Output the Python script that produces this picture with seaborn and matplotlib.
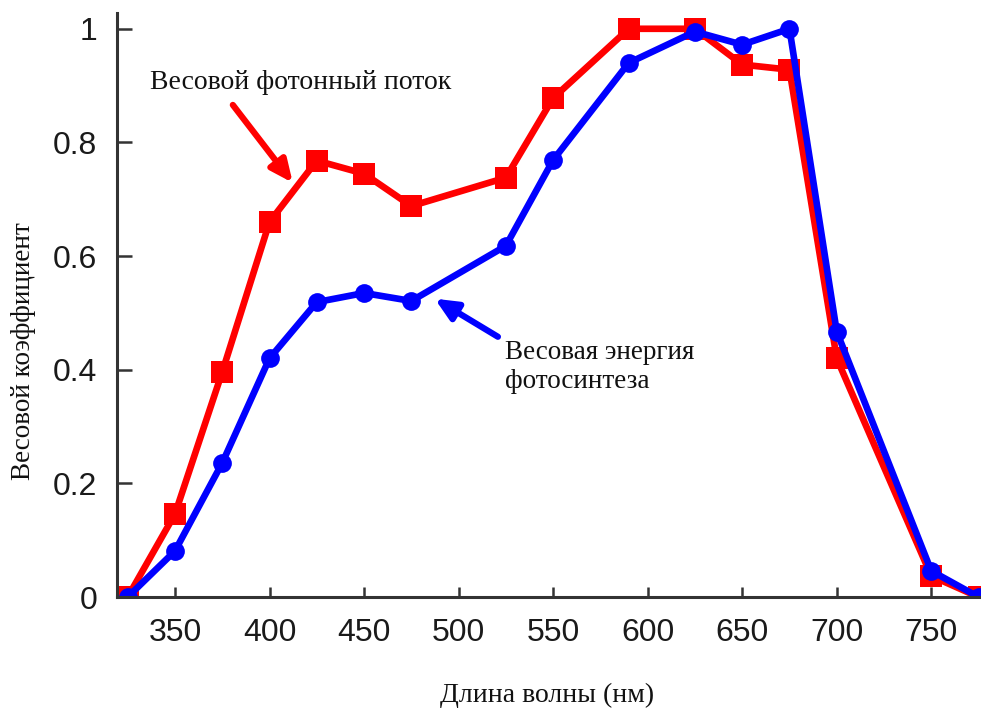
import matplotlib
matplotlib.use("Agg")
import matplotlib.pyplot as plt
import seaborn as sns
import pandas as pd

# Wavelengths (nm) and weighting coefficients
wavelength = [325, 350, 375, 400, 425, 450, 475, 525, 550, 590, 625, 650, 675, 700, 750, 775]
photon_flux = [0.0, 0.146, 0.396, 0.66, 0.768, 0.745, 0.688, 0.738, 0.878, 1.0, 1.0, 0.937, 0.928, 0.42, 0.037, 0.0]
photo_energy = [0.0, 0.081, 0.236, 0.42, 0.519, 0.535, 0.521, 0.618, 0.769, 0.94, 0.995, 0.972, 1.0, 0.467, 0.046, 0.0]

x_ticks = [350, 400, 450, 500, 550, 600, 650, 700, 750]
y_ticks = [0, 0.2, 0.4, 0.6, 0.8, 1.0]
y_ticklabels = ["0", "0.2", "0.4", "0.6", "0.8", "1"]

label_flux = "Весовой фотонный поток"
label_energy = "Весовая энергия\nфотосинтеза"
x_title = "Длина волны (нм)"
y_title = "Весовой коэффициент"

df = pd.DataFrame({"wl": wavelength, "flux": photon_flux, "energy": photo_energy})

sns.set_theme(style="ticks")
plt.rcParams["font.family"] = ["Liberation Sans", "DejaVu Sans"]

fig = plt.figure(figsize=(9.81, 7.15), dpi=100)
ax = fig.add_axes([0.119, 0.165, 0.881, 0.817])

sns.lineplot(data=df, x="wl", y="flux", ax=ax, color="#ff0000", lw=4.8,
             marker="s", markersize=16, markeredgewidth=0, zorder=3)
sns.lineplot(data=df, x="wl", y="energy", ax=ax, color="#0000ff", lw=4.8,
             marker="o", markersize=13.5, markeredgewidth=0, zorder=4)

ax.set_xlim(319.2, 776.3)
ax.set_ylim(0, 1.028)
ax.set_xticks(x_ticks)
ax.set_yticks(y_ticks)
ax.set_yticklabels(y_ticklabels)

for side in ("top", "right"):
    ax.spines[side].set_visible(False)
for side in ("left", "bottom"):
    ax.spines[side].set_linewidth(2.2)
    ax.spines[side].set_color("#333333")
    ax.spines[side].set_zorder(5)

ax.tick_params(axis="y", direction="in", length=11, width=1.8, color="#333333",
               pad=14, labelsize=23, labelcolor="#1a1a1a")
ax.tick_params(axis="x", direction="in", length=7, width=1.8, color="#333333",
               pad=15, labelsize=23, labelcolor="#1a1a1a")

serif = ["Liberation Serif", "DejaVu Serif"]
ax.set_xlabel(x_title, family=serif, fontsize=20, color="#111111", va="center")
ax.xaxis.set_label_coords(0.498, -0.168)
ax.set_ylabel(y_title, family=serif, fontsize=19.5, color="#111111", va="center")
ax.yaxis.set_label_coords(-0.108, 0.421)

ax.text(336.6, 0.905, label_flux, family=serif, fontsize=20, color="#111111",
        ha="left", va="center")
ax.text(524.5, 0.452, label_energy, family=serif, fontsize=19.5, color="#111111",
        ha="left", va="top", linespacing=1.2)

ax.annotate("", xy=(412.3, 0.729), xytext=(380.6, 0.866),
            arrowprops=dict(arrowstyle="-|>,head_length=1.1,head_width=0.5",
                            color="#ff0000", lw=4.5, shrinkA=0, shrinkB=0))
ax.annotate("", xy=(487.4, 0.525), xytext=(520.8, 0.458),
            arrowprops=dict(arrowstyle="-|>,head_length=1.1,head_width=0.5",
                            color="#0000ff", lw=4.5, shrinkA=0, shrinkB=0))

fig.savefig("out.png", dpi=100)
